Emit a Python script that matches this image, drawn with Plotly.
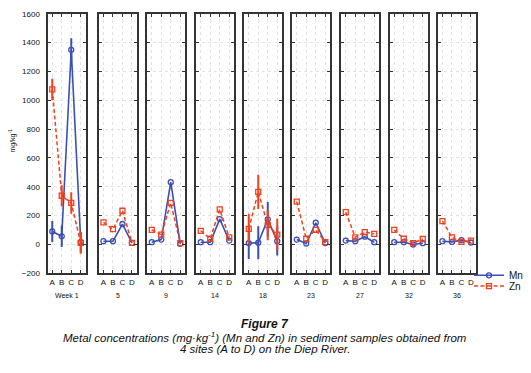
import plotly.graph_objects as go

weeks = ["Week 1", "5", "9", "14", "18", "23", "27", "32", "36"]
sites = ["A", "B", "C", "D"]

mn_w1 = [90, 57, 1350, 16];   zn_w1 = [1075, 338, 288, 11]
mn_w5 = [23, 23, 142, 11];    zn_w5 = [153, 106, 234, 11]
mn_w9 = [16, 34, 432, 5];     zn_w9 = [101, 68, 288, 10]
mn_w14 = [16, 16, 176, 27];   zn_w14 = [95, 40, 243, 50]
mn_w18 = [10, 12, 174, 23];   zn_w18 = [108, 365, 135, 68]
mn_w23 = [34, 7, 151, 10];    zn_w23 = [297, 40, 101, 16]
mn_w27 = [27, 23, 54, 16];    zn_w27 = [225, 50, 86, 74]
mn_w32 = [16, 16, 0, 9];      zn_w32 = [101, 40, 9, 38]
mn_w36 = [23, 18, 30, 14];    zn_w36 = [162, 50, 18, 27]

mn_err_w1 = [73, 75, 80, 70];   zn_err_w1 = [75, 72, 75, 75]
mn_err_w18 = [110, 115, 120, 100]; zn_err_w18 = [105, 118, 105, 110]

mn_all = [mn_w1, mn_w5, mn_w9, mn_w14, mn_w18, mn_w23, mn_w27, mn_w32, mn_w36]
zn_all = [zn_w1, zn_w5, zn_w9, zn_w14, zn_w18, zn_w23, zn_w27, zn_w32, zn_w36]
mn_errs = {0: mn_err_w1, 4: mn_err_w18}
zn_errs = {0: zn_err_w1, 4: zn_err_w18}

y_ticks = [-200, 0, 200, 400, 600, 800, 1000, 1200, 1400, 1600]

W, H = 531, 373
BLUE = "#3b4fb5"
RED = "#f0401e"
FONT = "Liberation Sans, Arial, sans-serif"

lefts = [47.5, 98.7, 147, 196, 244, 292, 341, 389.5, 437.7]
pw = 38
top_px, bot_px = 10, 276

fig = go.Figure()
layout = {}
for i, wk in enumerate(weeks):
    n = "" if i == 0 else str(i + 1)
    xa, ya = "x" + n, "y" + n
    fig.add_trace(go.Scatter(
        x=sites, y=mn_all[i], xaxis=xa, yaxis=ya, name="Mn",
        mode="lines+markers", showlegend=(i == 0), legend="legend",
        line=dict(color=BLUE, width=1.6),
        marker=dict(symbol="circle-open", size=5, color=BLUE, line=dict(width=1.3)),
        error_y=dict(type="data", array=mn_errs[i], color=BLUE, thickness=2, width=0,
                     visible=True) if i in mn_errs else None,
    ))
    fig.add_trace(go.Scatter(
        x=sites, y=zn_all[i], xaxis=xa, yaxis=ya, name="Zn",
        mode="lines+markers", showlegend=(i == 0), legend="legend2",
        line=dict(color=RED, width=1.5, dash="4px,2.5px"),
        marker=dict(symbol="square-open", size=5, color=RED, line=dict(width=1.3)),
        error_y=dict(type="data", array=zn_errs[i], color=RED, thickness=2, width=0,
                     visible=True) if i in zn_errs else None,
    ))
    common = dict(showline=True, linewidth=2, linecolor="#333333", mirror="ticks",
                  ticks="inside", ticklen=3, tickcolor="#333333",
                  showgrid=True, gridcolor="#e2e2e2", griddash="dot", gridwidth=1,
                  zeroline=False)
    layout["xaxis" + n] = dict(
        domain=[lefts[i] / W, (lefts[i] + pw) / W], anchor=ya,
        type="category", categoryorder="array", categoryarray=sites,
        tickmode="array", tickvals=sites, ticktext=sites,
        range=[-0.5, 3.5], tickfont=dict(family=FONT, size=8, color="#111"),
        **common)
    layout["yaxis" + n] = dict(
        domain=[1 - bot_px / H, 1 - top_px / H], anchor=xa,
        range=[-200, 1600], tickvals=y_ticks, ticklabelstandoff=4,
        showticklabels=(i == 0), tickfont=dict(family=FONT, size=8, color="#111"),
        **common)
    if i > 0:
        layout["yaxis" + n]["matches"] = "y"
    fig.add_annotation(text=wk, x=(lefts[i] + pw / 2) / W, y=1 - 299 / H,
                       xref="paper", yref="paper", showarrow=False,
                       xanchor="center", yanchor="middle",
                       font=dict(family=FONT, size=7, color="#111"))

ann = dict(xref="paper", yref="paper", showarrow=False, xanchor="center", yanchor="middle")
fig.add_annotation(text="mg/kg<sup>-1</sup>", x=13 / W, y=1 - 140 / H, textangle=-90,
                   font=dict(family=FONT, size=7, color="#111"), **ann)
fig.add_annotation(text="<b><i>Figure 7</i></b>", x=265 / W, y=1 - 328 / H,
                   font=dict(family=FONT, size=12, color="#111"), **ann)
fig.add_annotation(text="<i>Metal concentrations (mg·kg<sup>-1</sup>) (Mn and Zn) in sediment samples obtained from</i>",
                   x=265 / W, y=1 - 341 / H,
                   font=dict(family=FONT, size=11.5, color="#111"), **ann)
fig.add_annotation(text="<i>4 sites (A to D) on the Diep River.</i>",
                   x=265 / W, y=1 - 354 / H,
                   font=dict(family=FONT, size=11.5, color="#111"), **ann)

leg_common = dict(xanchor="left", yanchor="middle", itemwidth=30,
                  font=dict(family=FONT, size=10, color="#111"),
                  bgcolor="rgba(0,0,0,0)", borderwidth=0)
fig.update_layout(
    width=W, height=H, margin=dict(l=0, r=0, t=0, b=0),
    paper_bgcolor="white", plot_bgcolor="white",
    legend=dict(x=469 / W, y=1 - 278 / H, **leg_common),
    legend2=dict(x=469 / W, y=1 - 289 / H, **leg_common),
    **layout,
)
fig.write_html("out.html", config={"displayModeBar": False},
               post_script="document.body.style.margin='0px';")
